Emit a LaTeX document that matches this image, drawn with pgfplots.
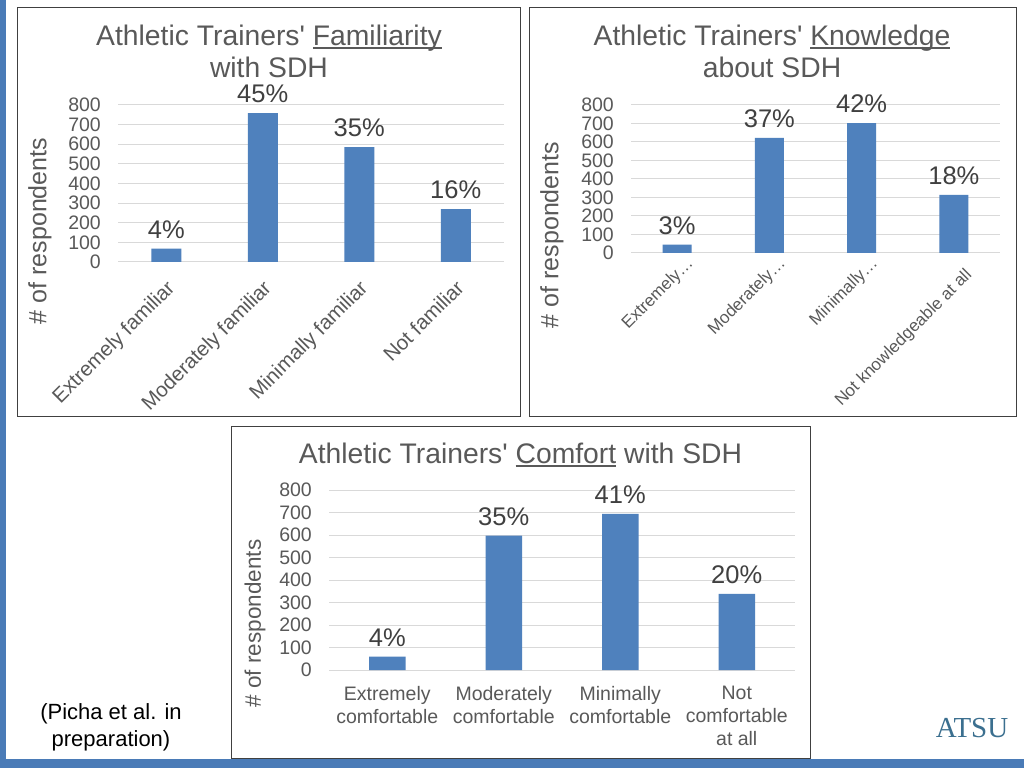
\documentclass[border=0pt]{standalone}
\usepackage{pgfplots}
\pgfplotsset{compat=1.18}
\usepackage{fontspec}
\setmainfont{Liberation Sans}
\newfontfamily\atsufont{Liberation Serif}
\definecolor{barblue}{HTML}{4F81BD}
\definecolor{txtgray}{HTML}{595959}
\definecolor{lblgray}{HTML}{404040}
\definecolor{gridgray}{HTML}{D9D9D9}
\definecolor{frameblue}{HTML}{4A7BB7}
\definecolor{panelc}{HTML}{404040}
\definecolor{atsu}{HTML}{3B6F8F}
\newsavebox\ulbox
\newcommand\ul[1]{\sbox\ulbox{#1}\rlap{\rule[-0.12em]{\wd\ulbox}{0.07em}}\usebox\ulbox}
\newcommand\fs[1]{\fontsize{#1}{#1}\selectfont}
\newcommand\AT{Athletic Trainers\textquotesingle{} }
\pgfplotsset{
  sdh/.style={
    scale only axis,
    anchor=south west,
    ymin=0, ymax=800, ytick distance=100,
    xmin=-0.5, xmax=3.5, xtick={0,1,2,3},
    ybar, bar shift=0pt,
    axis line style={draw=none},
    major tick length=0pt,
    ymajorgrids, grid style={gridgray, line width=1pt},
    /pgf/number format/assume math mode=true,
    yticklabel style={font=\fs{19.5}, text=txtgray, inner sep=0pt, anchor=east, xshift=-17pt},
    point meta=explicit symbolic,
    nodes near coords={\pgfplotspointmeta\%},
    every node near coord/.append style={font=\fs{25.5}, text=lblgray, anchor=south, inner sep=0pt, yshift=10pt},
    clip=false,
  },
}
\begin{document}
\begin{tikzpicture}[x=1pt,y=1pt]
\useasboundingbox (0,0) rectangle (1024,768);
\fill[white] (0,0) rectangle (1024,768);
\fill[frameblue] (0,0) rectangle (6,768);
\fill[frameblue] (0,0) rectangle (1024,9);
\draw[panelc, line width=1pt] (17,351) rectangle (520,760);
\draw[panelc, line width=1pt] (529,351) rectangle (1016,760);
\draw[panelc, line width=1pt] (231,10) rectangle (810,341);

% Chart 1
\node[anchor=base, font=\fs{28.3}, text=txtgray] at (269,722) {\AT\ul{Familiarity}};
\node[anchor=base, font=\fs{28.3}, text=txtgray] at (269,690) {with SDH};
\node[rotate=90, font=\fs{25}, text=txtgray] at (40,537) {\# of respondents};
\begin{axis}[sdh, at={(118pt,506pt)}, width=386pt, height=157pt,
  xticklabels={Extremely familiar, Moderately familiar, Minimally familiar, Not familiar},
  xticklabel style={font=\fs{20.5}, text=txtgray, inner sep=0pt, xshift=-1pt, yshift=-16.5pt, rotate=45, anchor=north east}]
\addplot[fill=barblue, draw=none, bar width=30pt] coordinates {(0,68) [4] (1,758) [45] (2,585) [35] (3,270) [16]};
\end{axis}

% Chart 2
\node[anchor=base, font=\fs{28.3}, text=txtgray] at (772,722) {\AT\ul{Knowledge}};
\node[anchor=base, font=\fs{28.3}, text=txtgray] at (772,690) {about SDH};
\node[rotate=90, font=\fs{25}, text=txtgray] at (552,533) {\# of respondents};
\begin{axis}[sdh, at={(631pt,515pt)}, width=369pt, height=148pt,
  xticklabels={Extremely…, Moderately…, Minimally…, {Not knowledgeable at all\hspace{7pt}\rule{0pt}{22pt}}},
  xticklabel style={font=\fs{17}, text=txtgray, inner sep=0pt, xshift=8pt, yshift=-2pt, rotate=45, anchor=north east}]
\addplot[fill=barblue, draw=none, bar width=29pt] coordinates {(0,45) [3] (1,622) [37] (2,702) [42] (3,314) [18]};
\end{axis}

% Chart 3
\node[anchor=base, font=\fs{28.3}, text=txtgray] at (520.5,304) {\AT\ul{Comfort} with SDH};
\node[rotate=90, font=\fs{22.5}, text=txtgray] at (255,144.5) {\# of respondents};
\begin{axis}[sdh, at={(329pt,98pt)}, width=466pt, height=180pt,
  xticklabels={Extremely\\comfortable, Moderately\\comfortable, Minimally\\comfortable, Not\\comfortable\\at all},
  xticklabel style={font=\fontsize{19.5}{23}\selectfont, text=txtgray, inner sep=0pt, align=center, anchor=north, yshift=-16pt}]
\addplot[fill=barblue, draw=none, bar width=36.5pt] coordinates {(0,60) [4] (1,597) [35] (2,694) [41] (3,338) [20]};
\end{axis}

% Footnote and logo
\node[font=\fontsize{22}{26.5}\selectfont, align=center, text=black] at (111,40.5) {(Picha et al. in\\preparation)};
\node[anchor=base, font=\atsufont\fs{29}, text=atsu] at (972,31) {ATSU};
\end{tikzpicture}
\end{document}
